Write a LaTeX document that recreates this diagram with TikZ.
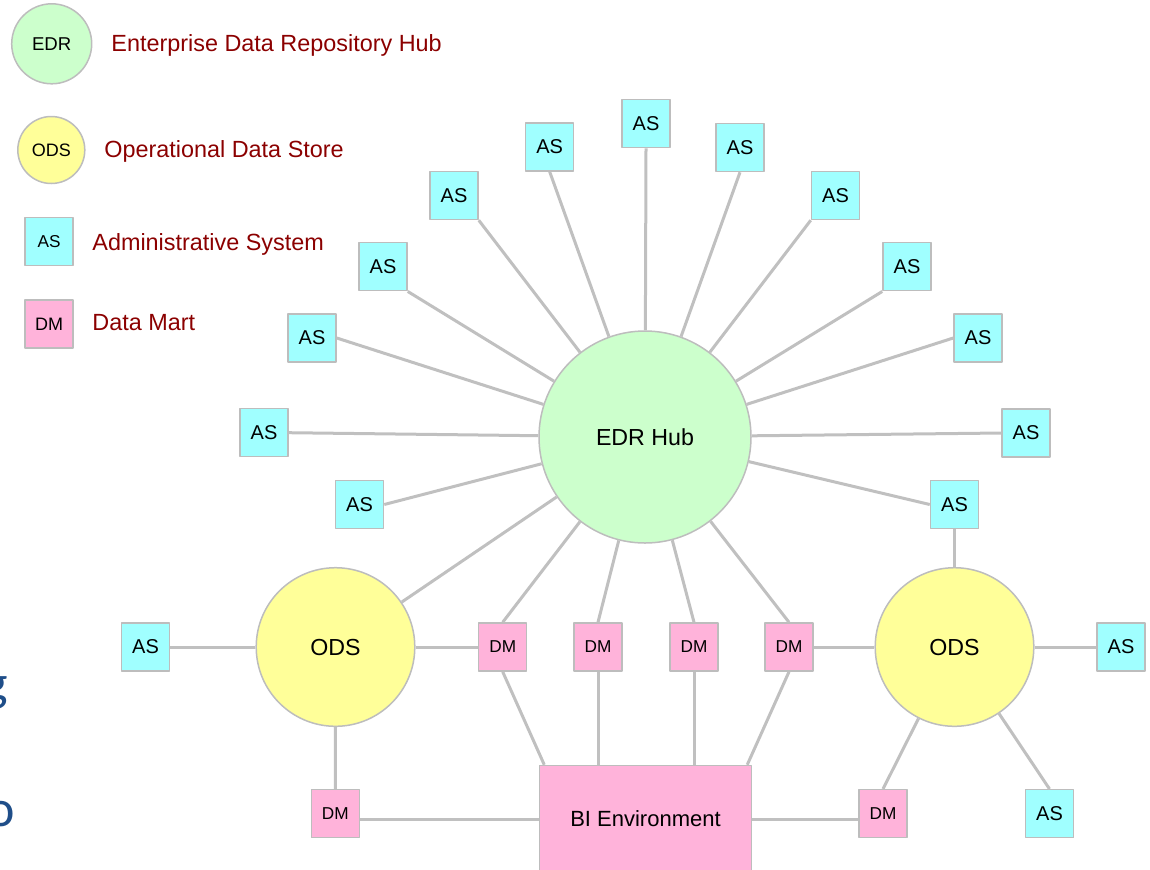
\documentclass[tikz,border=0pt]{standalone}
\usepackage{fontspec}
\setmainfont{Liberation Sans}
\newfontfamily\titlefont{Carlito}
\definecolor{hubgreen}{HTML}{CCFFCC}
\definecolor{odsyellow}{HTML}{FFFF99}
\definecolor{ascyan}{HTML}{A0FFFF}
\definecolor{dmpink}{HTML}{FFB3DA}
\definecolor{bordergray}{HTML}{BDBDBD}
\definecolor{linegray}{HTML}{C0C0C0}
\definecolor{legendred}{HTML}{8B0000}
\definecolor{titleblue}{HTML}{1F4E89}
\begin{document}
\begin{tikzpicture}[x=0.5pt, y=-0.5pt, line join=round,
    hubnode/.style={circle, draw=bordergray, line width=0.75pt, fill=hubgreen, minimum size=106pt, inner sep=0pt, font=\fontsize{11.6}{13}\selectfont},
    odsnode/.style={circle, draw=bordergray, line width=0.75pt, fill=odsyellow, minimum size=79.3pt, inner sep=0pt, font=\fontsize{11.6}{13}\selectfont},
    asbox/.style={rectangle, draw=bordergray, line width=0.75pt, fill=ascyan, minimum size=24pt, inner sep=0pt, font=\fontsize{10}{12}\selectfont},
    dmbox/.style={rectangle, draw=bordergray, line width=0.75pt, fill=dmpink, minimum size=24pt, inner sep=0pt, font=\fontsize{8.6}{10}\selectfont},
    bibox/.style={rectangle, draw=bordergray, line width=0.75pt, fill=dmpink, minimum width=106pt, minimum height=53.5pt, inner sep=0pt, font=\fontsize{11}{13}\selectfont},
    legtext/.style={anchor=base west, inner sep=0pt, text=legendred, font=\fontsize{11.7}{14}\selectfont},
    link/.style={draw=linegray, line width=1.5pt}]
\useasboundingbox (0,0) rectangle (1150,869);
% cut-off title letters at the left edge
\node[anchor=base east, inner sep=0pt, text=titleblue, font=\titlefont\fontsize{26}{26}\selectfont] (titleg) at (8,700) {g};
\node[anchor=base east, inner sep=0pt, text=titleblue, font=\titlefont\fontsize{26}{26}\selectfont] (titleo) at (15,826) {o};
% legend
\node[hubnode, minimum size=40pt, font=\fontsize{9.3}{11}\selectfont] (legedr) at (51.7,43.8) {EDR};
\node[legtext] (legedrtext) at (111,51.7) {Enterprise Data Repository Hub};
\node[odsnode, minimum size=33.5pt, font=\fontsize{9}{11}\selectfont] (legods) at (51.3,150) {ODS};
\node[legtext] (legodstext) at (104,157) {Operational Data Store};
\node[asbox, font=\fontsize{8.6}{10}\selectfont] (legas) at (49,241.3) {AS};
\node[legtext] (legastext) at (92,250) {Administrative System};
\node[dmbox, font=\fontsize{9}{11}\selectfont] (legdm) at (49,324) {DM};
\node[legtext] (legdmtext) at (92,330) {Data Mart};
% hub and its systems
\node[hubnode] (hub) at (645,437) {EDR Hub};
\foreach \px/\py/\anc [count=\i] in {646/123.5/south, 549.7/147/south, 740/147.5/south,
    454/195.5/south east, 835.5/195.5/south west, 383/266.7/south east, 907/266.7/south west,
    312/338/east, 978/338/west, 264/432.7/east, 1026/433/west, 359.5/504.5/east, 954.5/504.5/west}
{
  \node[asbox] (as\i) at (\px,\py) {AS};
  \draw[link] (as\i.\anc) -- (hub);
}
% operational data stores
\node[odsnode] (odsL) at (335.5,647) {ODS};
\node[odsnode] (odsR) at (954.5,647) {ODS};
\node[asbox] (asL) at (145.5,647) {AS};
\node[asbox] (asR) at (1121,647) {AS};
\node[asbox] (asBR) at (1049.5,813.7) {AS};
% data marts
\foreach \px [count=\i] in {502.7,598,694,789}
  \node[dmbox] (dm\i) at (\px,647) {DM};
\node[dmbox] (dmL) at (335.3,813.7) {DM};
\node[dmbox] (dmR) at (883,813.7) {DM};
\node[bibox] (bi) at (645.5,819) {BI Environment};
% connectors
\draw[link] (odsL) -- (hub);
\foreach \i in {1,...,4}
  \draw[link] (dm\i.north) -- (hub);
\draw[link] (asL) -- (odsL);
\draw[link] (odsL) -- (dm1);
\draw[link] (odsL) -- (dmL);
\draw[link] (dmL.east |- bi.west) -- (bi.west);
\draw[link] (as13.south) -- (odsR);
\draw[link] (dm4) -- (odsR);
\draw[link] (odsR) -- (asR);
\draw[link] (dmR.north) -- (odsR);
\draw[link] (asBR.north) -- (odsR);
\draw[link] (bi.east) -- (dmR.west |- bi.east);
\draw[link] (dm1.south) -- ([xshift=2.75pt]bi.north west);
\draw[link] (dm2.south) -- (dm2.south |- bi.north);
\draw[link] (dm3.south) -- (dm3.south |- bi.north);
\draw[link] (dm4.south) -- ([xshift=-2.5pt]bi.north east);
\end{tikzpicture}
\end{document}
